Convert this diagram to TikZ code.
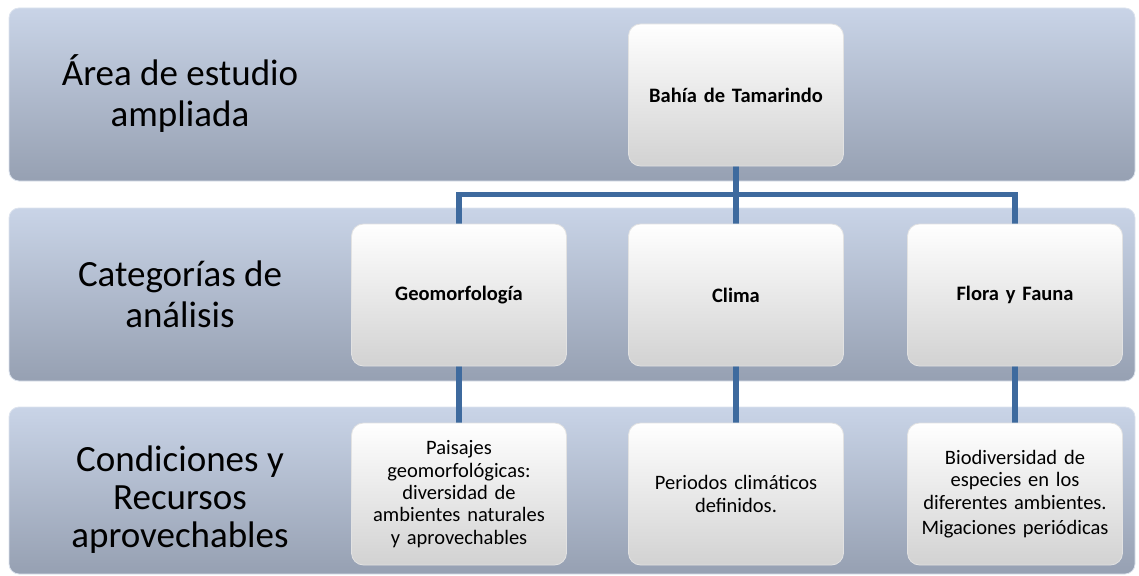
\documentclass[tikz,border=0pt]{standalone}
\usepackage{fontspec}
\setmainfont{Carlito}
\pgfdeclarelayer{bands}
\pgfdeclarelayer{lines}
\pgfsetlayers{bands,lines,main}
\definecolor{bandtop}{HTML}{C9D4E7}
\definecolor{bandbot}{HTML}{96A0B2}
\definecolor{bandedge}{HTML}{DCE3EE}
\definecolor{boxbot}{HTML}{D2D2D2}
\definecolor{boxedge}{HTML}{E2E2E2}
\definecolor{connblue}{HTML}{3E6A9E}
\begin{document}
\begin{tikzpicture}[x=1pt,y=-1pt,
  band/.style={rounded corners=10pt, top color=bandtop, bottom color=bandbot, draw=bandedge, line width=0.8pt, minimum width=1126pt, inner sep=0pt},
  box/.style={rounded corners=12pt, top color=white, bottom color=boxbot, draw=boxedge, line width=0.8pt, minimum width=215pt, minimum height=142pt, inner sep=2pt, text width=208pt, align=center, font=\fontsize{20.5}{22.3}\selectfont},
  boldbox/.style={box, font=\fontsize{20.5}{24}\selectfont\bfseries},
  lbl/.style={align=center, anchor=base, font=\fontsize{37}{41}\selectfont},
  conn/.style={draw=connblue, line width=5.5pt}
]
\useasboundingbox (0,0) rectangle (1139,575);
% left labels (anchor = baseline of last line)
\node[lbl] (l1) at (180,127) {Área de estudio\\ampliada};
\node[lbl] (l2) at (180,327) {Categorías de\\análisis};
\node[lbl, font=\fontsize{37}{37.7}\selectfont] (l3) at (180,547) {Condiciones y\\Recursos\\aprovechables};
% boxes row 1
\node[boldbox] (bt) at (736,95) {Bahía de Tamarindo};
% row 2
\node[boldbox] (geo) at (459,295) {Geomorfología};
\node[boldbox] (cli) at (736,295) {Clima};
\node[boldbox] (flo) at (1015,295) {Flora y Fauna};
% row 3
\node[box] (pai) at (459,494) {Paisajes\\geomorfológicas:\\diversidad de\\ambientes naturales\\y aprovechables};
\node[box] (per) at (736,494) {Periodos climáticos\\definidos.};
\node[box] (bio) at (1015,494) {Biodiversidad de\\especies en los\\diferentes ambientes.\\[3pt]Migaciones periódicas};
% bands
\begin{pgfonlayer}{bands}
\node[band, minimum height=173pt] (b1) at (572,94.5) {};
\node[band, minimum height=173pt] (b2) at (572,294.5) {};
\node[band, minimum height=167pt] (b3) at (572,490.5) {};
\end{pgfonlayer}
% connectors
\begin{pgfonlayer}{lines}
\coordinate (j) at (bt.south |- 0,194.5);
\draw[conn] (bt.south) -- (j);
\draw[conn] (j) -| (geo.north);
\draw[conn] (j) -| (flo.north);
\draw[conn] (j) -- (cli.north);
\draw[conn] (geo.south) -- (pai.north);
\draw[conn] (cli.south) -- (per.north);
\draw[conn] (flo.south) -- (bio.north);
\end{pgfonlayer}
\end{tikzpicture}
\end{document}
